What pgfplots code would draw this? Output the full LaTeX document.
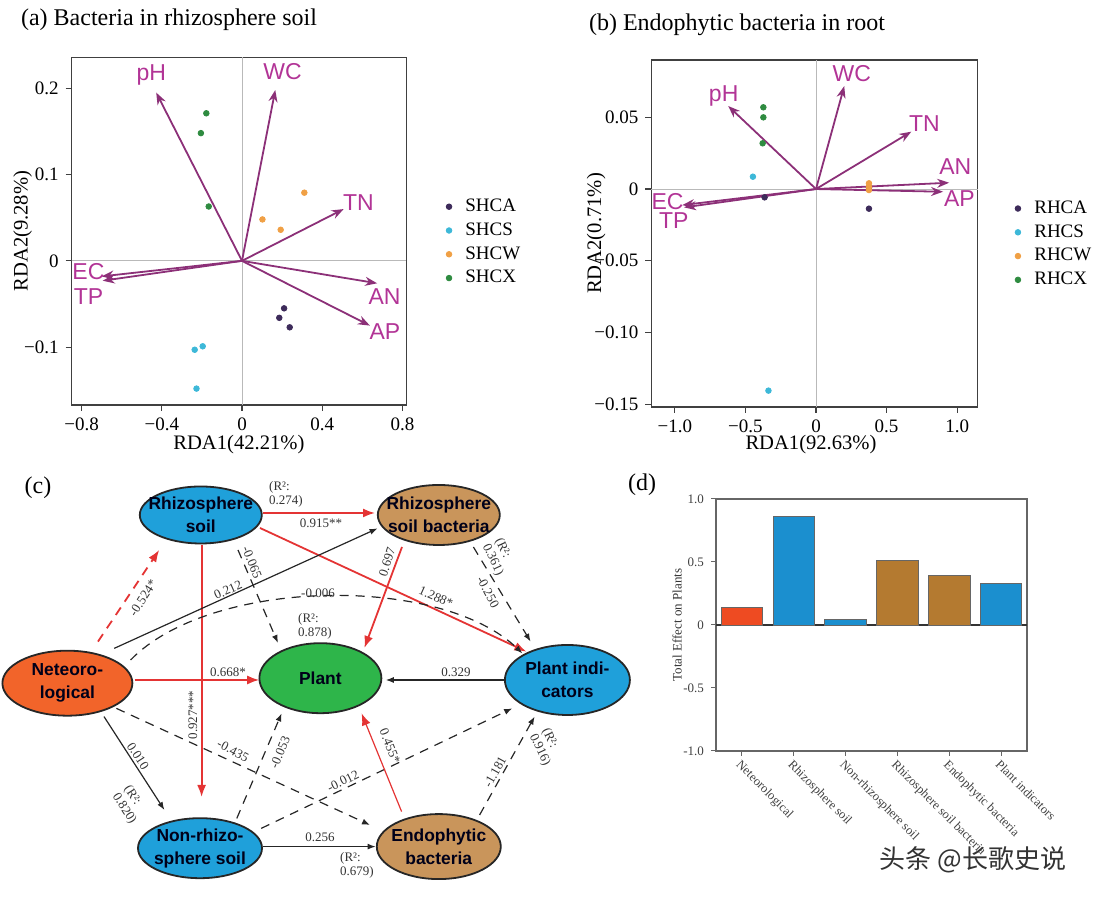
\documentclass[border=0pt]{standalone}
\usepackage{fontspec}
\setmainfont{Liberation Serif}
\newfontfamily\arial{Liberation Sans}
\newfontfamily\cjk{Noto Sans CJK SC}
\usepackage{pgfplots}
\pgfplotsset{compat=1.18}
\usetikzlibrary{arrows.meta,shapes.geometric}

\definecolor{arrowcol}{RGB}{140,48,120}
\definecolor{labcol}{RGB}{178,52,150}
\definecolor{ca}{HTML}{3D2B5A}
\definecolor{cs}{HTML}{3DB8D8}
\definecolor{cw}{HTML}{F0A045}
\definecolor{cx}{HTML}{2E8B40}
\definecolor{nblue}{HTML}{1FA0DA}
\definecolor{ntan}{HTML}{C9955B}
\definecolor{norange}{HTML}{F2642A}
\definecolor{ngreen}{HTML}{2EB54A}
\definecolor{pathred}{RGB}{228,52,52}
\definecolor{bred}{HTML}{EE4B22}
\definecolor{bblue}{HTML}{1B8FCF}
\definecolor{bbrown}{HTML}{B47A30}

\pgfplotsset{
  rda/.style={
    anchor=south west, scale only axis, clip=false,
    tick align=outside, xtick pos=left, ytick pos=left,
    ticklabel style={font=\fontsize{9.5}{10}\selectfont},
    label style={font=\fontsize{10.3}{12}\selectfont},
    axis line style={black!75, line width=0.6pt},
    major tick style={black!75, line width=0.6pt},
    major tick length=3pt,
    legend style={draw=none, fill=none, font=\fontsize{9.5}{10}\selectfont,
      anchor=north west, nodes={inner sep=1.2pt}, row sep=1.7pt},
    legend cell align=left,
    legend image code/.code={\path[draw=none, fill=none] (0pt,0pt) -- (10pt,0pt);
      \fill[##1] (3pt,0pt) circle (1.4pt);},
  },
  grp/.style={only marks, mark=*, mark size=1.4pt, color=#1},
  vec/.style={quiver={u=\thisrow{u},v=\thisrow{v}}, -{Stealth[length=6pt,width=4.5pt]},
    arrowcol, line width=0.9pt, mark=none, forget plot},
  vlab/.style={only marks, mark=none, nodes near coords, point meta=explicit symbolic,
    nodes near coords style={anchor=center, inner sep=0pt,
      font=\arial\fontsize{11.5}{12}\selectfont, text=labcol}, forget plot},
  zl/.style={gray!55, line width=0.4pt, forget plot},
}

\tikzset{
  ell/.style={ellipse, draw=black!85, line width=0.9pt, inner sep=0pt},
  etx/.style={align=center, inner sep=0pt,
    font=\arial\bfseries\fontsize{8.7}{11.5}\selectfont, text=black!90!blue},
  lab/.style={font=\fontsize{6.5}{7}\selectfont, inner sep=0.5pt, text=black!80, align=left},
  bk/.style={black!85, line width=0.6pt, -{Latex[length=4pt,width=3pt]}},
  rd/.style={pathred, line width=0.9pt, -{Latex[length=6pt,width=4.5pt]}},
  dsh/.style={dash pattern=on 4.5pt off 3.5pt},
}

\begin{document}
\begin{tikzpicture}
\path[use as bounding box] (0,0) rectangle (550pt,449pt);

% ---------- (a) ----------
\node[anchor=west, font=\fontsize{12}{14}\selectfont] at (7pt,439pt) {(a) Bacteria in rhizosphere soil};
\begin{axis}[rda, at={(35.8pt,246.5pt)}, width=167.3pt, height=173.9pt,
  xmin=-0.85, xmax=0.819, ymin=-0.167, ymax=0.236,
  xtick={-0.8,-0.4,0,0.4,0.8}, xticklabels={−0.8,−0.4,0,0.4,0.8},
  ytick={-0.1,0,0.1,0.2}, yticklabels={−0.1,0,0.1,0.2},
  xlabel={RDA1(42.21\%)}, ylabel={RDA2(9.28\%)},
  xlabel style={at={(axis description cs:0.5,-0.113)}, anchor=center},
  ylabel style={at={(axis description cs:-0.146,0.5)}, anchor=center},
  legend style={at={(axis description cs:1.091,0.612)}},
]
\addplot[zl] coordinates {(0,-0.167) (0,0.236)};
\addplot[zl] coordinates {(-0.85,0) (0.819,0)};
\addplot[grp=ca] table {
x y
0.210 -0.055
0.186 -0.066
0.238 -0.077
};
\addlegendentry{SHCA}
\addplot[grp=cs] table {
x y
-0.196 -0.099
-0.236 -0.103
-0.227 -0.148
};
\addlegendentry{SHCS}
\addplot[grp=cw] table {
x y
0.311 0.079
0.102 0.048
0.193 0.036
};
\addlegendentry{SHCW}
\addplot[grp=cx] table {
x y
-0.178 0.171
-0.205 0.148
-0.166 0.063
};
\addlegendentry{SHCX}
\addplot[vec] table {
x y u v
0 0 -0.428 0.195
0 0 0.166 0.198
0 0 0.507 0.060
0 0 0.674 -0.026
0 0 0.638 -0.075
0 0 -0.700 -0.018
0 0 -0.695 -0.023
};
\addplot[vlab] table[meta=t] {
x y t
-0.452 0.2155 pH
0.2025 0.219 WC
0.581 0.067 TN
0.711 -0.041 AN
0.713 -0.082 AP
-0.766 -0.0124 EC
-0.765 -0.041 TP
};
\end{axis}

% ---------- (b) ----------
\node[anchor=west, font=\fontsize{12}{14}\selectfont] at (291pt,436.5pt) {(b) Endophytic bacteria in root};
\begin{axis}[rda, at={(325.7pt,245.5pt)}, width=163.2pt, height=173.5pt,
  xmin=-1.166, xmax=1.146, ymin=-0.152, ymax=0.09,
  xtick={-1,-0.5,0,0.5,1}, xticklabels={−1.0,−0.5,0,0.5,1.0},
  ytick={-0.15,-0.1,-0.05,0,0.05}, yticklabels={−0.15,−0.10,−0.05,0,0.05},
  xlabel={RDA1(92.63\%)}, ylabel={RDA2(0.71\%)},
  xlabel style={at={(axis description cs:0.489,-0.108)}, anchor=center},
  ylabel style={at={(axis description cs:-0.169,0.5)}, anchor=center},
  legend style={at={(axis description cs:1.085,0.614)}},
]
\addplot[zl] coordinates {(0,-0.152) (0,0.09)};
\addplot[zl] coordinates {(-1.166,0) (1.146,0)};
\addplot[grp=ca] table {
x y
-0.364 -0.0058
0.375 -0.0137
0.375 0.0010
};
\addlegendentry{RHCA}
\addplot[grp=cs] table {
x y
-0.447 0.0086
-0.337 -0.1406
};
\addlegendentry{RHCS}
\addplot[grp=cw] table {
x y
0.375 0.0040
0.375 0.0016
0.375 -0.0007
};
\addlegendentry{RHCW}
\addplot[grp=cx] table {
x y
-0.373 0.0570
-0.373 0.0500
-0.378 0.0319
};
\addlegendentry{RHCX}
\addplot[vec] table {
x y u v
0 0 -0.622 0.0579
0 0 0.200 0.0718
0 0 0.675 0.0400
0 0 0.943 0.0044
0 0 0.900 -0.0019
0 0 -0.947 -0.0112
0 0 -0.935 -0.0128
};
\addplot[vlab] table[meta=t] {
x y t
-0.654 0.0649 pH
0.254 0.0807 WC
0.768 0.0458 TN
0.987 0.0156 AN
1.016 -0.0070 AP
-1.052 -0.0088 EC
-1.008 -0.0221 TP
};
\end{axis}

% ---------- (c) ----------
\node[font=\fontsize{12}{14}\selectfont] at (19pt,205pt) {(c)};
\draw[rd] (131.5pt,192.5pt) -- (187.5pt,192.5pt);
\draw[rd] (130pt,185pt) -- (263.2pt,123.2pt);
\draw[rd] (100.8pt,176.5pt) -- (100.8pt,50.5pt);
\draw[bk,dsh] (119pt,174pt) -- (139pt,127.5pt);
\draw[rd] (201pt,175.5pt) -- (182.2pt,125pt);
\draw[bk,dsh] (236.7pt,175.5pt) -- (265.3pt,128.2pt);
\draw[rd,dsh] (49pt,128.2pt) -- (79.6pt,174pt);
\draw[bk] (57.1pt,124.8pt) -- (188.8pt,184.8pt);
\draw[bk,dsh] (65.3pt,119pt) .. controls (105pt,160pt) and (220pt,162pt) .. (261.2pt,122.3pt);
\draw[rd] (67.3pt,109pt) -- (129.6pt,109pt);
\draw[bk] (52pt,90.7pt) -- (82.2pt,44pt);
\draw[bk,dsh] (58.2pt,94.8pt) -- (185pt,36.5pt);
\draw[bk,dsh] (118.4pt,39.8pt) -- (140.8pt,92.3pt);
\draw[bk,dsh] (130.6pt,34.8pt) -- (256.1pt,94.8pt);
\draw[bk] (131.6pt,25.7pt) -- (187.8pt,25.7pt);
\draw[rd,line width=0.6pt] (200.8pt,43.2pt) -- (180.8pt,92.3pt);
\draw[bk,dsh] (239.8pt,41.5pt) -- (267.3pt,90.7pt);
\draw[bk] (252.6pt,109pt) -- (192.9pt,109pt);

\node[ell, fill=nblue, minimum width=61pt, minimum height=28.5pt] at (100.4pt,191.5pt) {};
\node[etx] at (100.4pt,191.5pt) {Rhizosphere\\soil};
\node[ell, fill=ntan, minimum width=61pt, minimum height=30pt] at (219.4pt,191.5pt) {};
\node[etx] at (219.4pt,191.5pt) {Rhizosphere\\soil bacteria};
\node[ell, fill=norange, minimum width=65pt, minimum height=32.5pt] at (33.7pt,107.4pt) {};
\node[etx] at (33.7pt,107.4pt) {Neteoro-\\logical};
\node[ell, fill=ngreen, minimum width=61pt, minimum height=35pt] at (160.2pt,109.9pt) {};
\node[etx] at (160.2pt,109.9pt) {Plant};
\node[ell, fill=nblue, minimum width=62.5pt, minimum height=35pt] at (283.7pt,109pt) {};
\node[etx] at (283.7pt,109pt) {Plant indi-\\cators};
\node[ell, fill=nblue, minimum width=62pt, minimum height=30pt] at (100pt,24.9pt) {};
\node[etx] at (100pt,24.9pt) {Non-rhizo-\\sphere soil};
\node[ell, fill=ntan, minimum width=62pt, minimum height=32.5pt] at (219.4pt,25.7pt) {};
\node[etx] at (219.4pt,25.7pt) {Endophytic\\bacteria};

\node[lab] at (143pt,202pt) {(R²:\\0.274)};
\node[lab] at (160.5pt,187.5pt) {0.915**};
\node[lab, rotate=-24] at (218pt,150.5pt) {1.288*};
\node[lab, rotate=90] at (96.5pt,91.5pt) {0.927***};
\node[lab, rotate=-68] at (126pt,168pt) {-0.065};
\node[lab, rotate=72] at (193.5pt,168pt) {0.697};
\node[lab, rotate=-62] at (244pt,153pt) {-0.250};
\node[lab, rotate=-65] at (249.5pt,170.5pt) {(R²:\\0.361)};
\node[lab, rotate=57] at (71.5pt,150pt) {-0.524*};
\node[lab, rotate=24] at (114pt,154pt) {0.212};
\node[lab] at (159pt,152.5pt) {-0.006};
\node[lab] at (157.5pt,136pt) {(R²:\\0.878)};
\node[lab] at (114pt,113pt) {0.668*};
\node[lab] at (228pt,113pt) {0.329};
\node[lab, rotate=-57] at (69pt,71pt) {0.010};
\node[lab, rotate=-57] at (65pt,46.5pt) {(R²:\\0.820)};
\node[lab, rotate=-28] at (116.5pt,73.5pt) {-0.435};
\node[lab, rotate=67] at (140pt,73pt) {-0.053};
\node[lab, rotate=-68] at (195pt,76pt) {0.455*};
\node[lab, rotate=26] at (171.5pt,58.5pt) {-0.012};
\node[lab, rotate=61] at (247.5pt,63pt) {-1.181};
\node[lab, rotate=-65] at (273pt,75.5pt) {(R²:\\0.916)};
\node[lab] at (160pt,30.5pt) {0.256};
\node[lab] at (178.5pt,16.5pt) {(R²:\\0.679)};

% ---------- (d) ----------
\node[font=\fontsize{12}{14}\selectfont] at (321pt,206.5pt) {(d)};
\begin{axis}[at={(358pt,73.5pt)}, anchor=south west, scale only axis,
  width=155.5pt, height=126pt,
  xmin=-0.5, xmax=5.5, ymin=-1, ymax=1,
  ybar, bar width=0.8, bar shift=0pt,
  xtick={0,1,2,3,4,5},
  xticklabels={Neteorological, Rhizosphere soil, Non-rhizosphere soil, Rhizosphere soil bacteria, Endophytic bacteria, Plant indicators},
  xticklabel style={rotate=-45, anchor=north west, font=\fontsize{6.3}{7}\selectfont, text=black!75, inner sep=1pt},
  ytick={-1,-0.5,0,0.5,1}, yticklabels={-1.0,-0.5,0,0.5,1.0},
  yticklabel style={font=\fontsize{6.5}{7}\selectfont, text=black!75},
  tick align=outside, xtick pos=left, ytick pos=left,
  axis line style={black!60, line width=0.6pt}, major tick style={black!60, line width=0.5pt},
  major tick length=2.5pt,
  ylabel={Total Effect on Plants},
  ylabel style={font=\fontsize{6.5}{7}\selectfont, text=black!80, at={(axis description cs:-0.125,0.5)}, anchor=center},
  extra y ticks={0}, extra y tick labels={},
  extra y tick style={grid=major, major grid style={black!80, line width=0.6pt}},
]
\addplot[fill=bred, draw=black!60, line width=0.4pt] coordinates {(0,0.14)};
\addplot[fill=bblue, draw=black!60, line width=0.4pt] coordinates {(1,0.862) (2,0.042) (5,0.328)};
\addplot[fill=bbrown, draw=black!60, line width=0.4pt] coordinates {(3,0.51) (4,0.39)};
\end{axis}

\node[font=\cjk\fontsize{13}{14}\selectfont, text=black!80] at (486.5pt,19pt) {头条 @长歌史说};
\end{tikzpicture}
\end{document}
